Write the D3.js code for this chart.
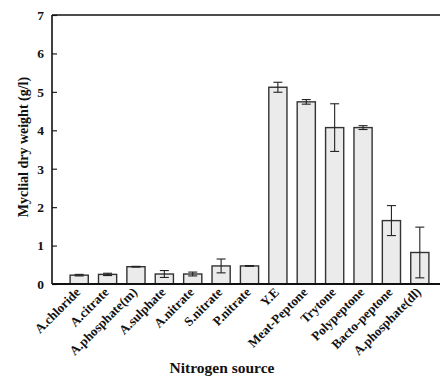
<!DOCTYPE html>
<html><head><meta charset="utf-8">
<script src="https://cdn.jsdelivr.net/npm/d3@7"></script>
<style>body{margin:0;background:#fff}</style>
</head><body>
<svg id="c" width="442" height="380"></svg>
<script>
const categories = ["A.chloride","A.citrate","A.phosphate(m)","A.sulphate","A.nitrate","S.nitrate","P.nitrate","Y.E","Meat-Peptone","Trytone","Polypeptone","Bacto-peptone","A.phosphate(dl)"];
const values = [0.23,0.25,0.45,0.26,0.26,0.47,0.47,5.12,4.74,4.07,4.07,1.65,0.82];
const errors = [0.02,0.03,0.01,0.09,0.05,0.18,0.01,0.13,0.06,0.62,0.05,0.39,0.66];
const yTicks = [0,1,2,3,4,5,6,7];

const svg = d3.select("#c");
const font = "'Liberation Serif','Times New Roman',serif";
const mLeft = 52, mRight = 440, mTop = 15, mBottom = 284;

const x = d3.scaleBand().domain(categories).range([65, 434]).paddingInner(0.36).paddingOuter(0.18);
const y = d3.scaleLinear().domain([0,7]).range([mBottom, mTop]);

// bars
svg.append("g").selectAll("rect").data(categories).join("rect")
  .attr("x", d => x(d)).attr("width", x.bandwidth())
  .attr("y", (d,i) => y(values[i])).attr("height", (d,i) => y(0) - y(values[i]))
  .attr("fill", "#ebebeb").attr("stroke", "#333").attr("stroke-width", 1.4);

// error bars
const eg = svg.append("g").attr("stroke", "#222").attr("stroke-width", 1.1);
categories.forEach((c,i) => {
  const cx = x(c) + x.bandwidth()/2;
  const y1 = y(values[i] + errors[i]), y2 = y(Math.max(0, values[i] - errors[i]));
  eg.append("line").attr("x1", cx).attr("x2", cx).attr("y1", y1).attr("y2", y2);
  eg.append("line").attr("x1", cx-4.5).attr("x2", cx+4.5).attr("y1", y1).attr("y2", y1);
  eg.append("line").attr("x1", cx-4.5).attr("x2", cx+4.5).attr("y1", y2).attr("y2", y2);
});

// y axis
const ya = svg.append("g").attr("transform", `translate(${mLeft},0)`)
  .call(d3.axisLeft(y).tickValues(yTicks).tickSize(-5).tickPadding(8).tickFormat(d3.format("d")));
ya.select(".domain").remove();
ya.selectAll(".tick line").attr("stroke", "#222").attr("stroke-width", 1.2);
ya.selectAll("text").attr("font-family", font).attr("font-weight", "bold").attr("font-size", 13.5).attr("fill", "#111");

// frame lines
svg.append("line").attr("x1", mLeft).attr("x2", mLeft).attr("y1", mTop).attr("y2", mBottom).attr("stroke", "#111").attr("stroke-width", 1.6);
svg.append("line").attr("x1", mLeft).attr("x2", mRight).attr("y1", mTop).attr("y2", mTop).attr("stroke", "#111").attr("stroke-width", 1.6);
svg.append("line").attr("x1", mLeft).attr("x2", mRight).attr("y1", mBottom).attr("y2", mBottom).attr("stroke", "#111").attr("stroke-width", 1.8);

// x labels
svg.append("g").selectAll("text").data(categories).join("text")
  .attr("transform", d => `translate(${x(d)+x.bandwidth()/2+2},${mBottom+9}) rotate(-45)`)
  .attr("text-anchor", "end").attr("font-family", font).attr("font-weight", "bold")
  .attr("font-size", 13).attr("fill", "#111").text(d => d);

// titles
svg.append("text").attr("x", 222).attr("y", 373).attr("text-anchor", "middle")
  .attr("font-family", font).attr("font-weight", "bold").attr("font-size", 15.5).attr("fill", "#111")
  .text("Nitrogen source");
svg.append("text").attr("transform", "translate(28,147) rotate(-90)").attr("text-anchor", "middle")
  .attr("font-family", font).attr("font-weight", "bold").attr("font-size", 14).attr("fill", "#111")
  .text("Myclial dry weight (g/l)");
</script>
</body></html>
